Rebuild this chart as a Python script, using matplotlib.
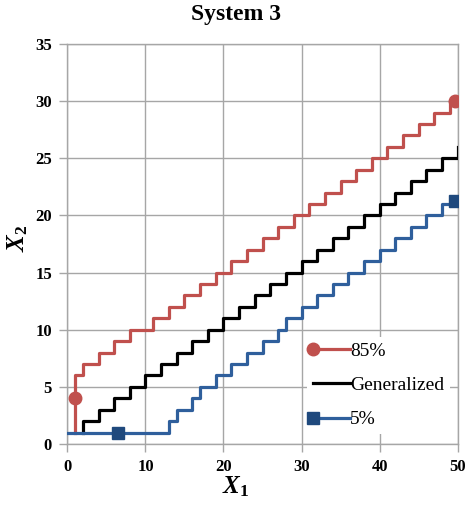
import matplotlib
matplotlib.use("Agg")
import matplotlib.pyplot as plt
from matplotlib.lines import Line2D
from matplotlib.legend_handler import HandlerLine2D

# step lines, each x is where the new y value starts
red_x = [1, 1, 2, 4, 6, 8, 11, 13, 15, 17, 19, 21, 23, 25, 27, 29, 31, 33, 35,
         37, 39, 41, 43, 45, 47, 49, 50]
red_y = [1, 6, 7, 8, 9, 10, 11, 12, 13, 14, 15, 16, 17, 18, 19, 20, 21, 22, 23,
         24, 25, 26, 27, 28, 29, 30, 30]

gen_x = [2, 2, 4, 6, 8, 10, 12, 14, 16, 18, 20, 22, 24, 26, 28, 30, 32, 34, 36,
         38, 40, 42, 44, 46, 48, 50]
gen_y = [1, 2, 3, 4, 5, 6, 7, 8, 9, 10, 11, 12, 13, 14, 15, 16, 17, 18, 19,
         20, 21, 22, 23, 24, 25, 26]

blue_x = [0, 13, 14, 16, 17, 19, 21, 23, 25, 27, 28, 30, 32, 34, 36, 38, 40,
          42, 44, 46, 48, 50]
blue_y = [1, 2, 3, 4, 5, 6, 7, 8, 9, 10, 11, 12, 13, 14, 15, 16, 17,
          18, 19, 20, 21, 21]

# marker points on the 85% and 5% curves
red_mark_x = [1, 49.7]
red_mark_y = [4, 30]
blue_mark_x = [6.5, 49.7]
blue_mark_y = [1, 21.3]

labels = ["85%", "Generalized", "5%"]
x_ticks = [0, 10, 20, 30, 40, 50]
y_ticks = [0, 5, 10, 15, 20, 25, 30, 35]

red = "#C0504D"
blue_line = "#2F5F9C"
blue_mark = "#1F497D"
grid_col = "#A6A6A6"

plt.rcParams["font.family"] = ["Liberation Serif", "DejaVu Serif"]
plt.rcParams["mathtext.fontset"] = "custom"
plt.rcParams["mathtext.rm"] = "Liberation Serif:bold"
plt.rcParams["mathtext.it"] = "Liberation Serif:italic:bold"
plt.rcParams["mathtext.bf"] = "Liberation Serif:bold"


class LeftMarker(HandlerLine2D):
    # put the legend marker at the left end of the line, like Excel
    def create_artists(self, *args, **kwargs):
        artists = super().create_artists(*args, **kwargs)
        for a in artists:
            if isinstance(a, Line2D):
                a.set_markevery([0])
        return artists


fig = plt.figure(figsize=(4.72, 5.07), dpi=100)
ax = fig.add_axes([0.1428, 0.1243, 0.8267, 0.7889])

ax.step(red_x, red_y, where="post", color=red, lw=2.3, zorder=3)
ax.step(gen_x, gen_y, where="post", color="black", lw=2.3, zorder=3)
ax.step(blue_x, blue_y, where="post", color=blue_line, lw=2.3, zorder=3)
ax.plot(red_mark_x, red_mark_y, "o", color=red, ms=9, zorder=4)
ax.plot(blue_mark_x, blue_mark_y, "s", color=blue_mark, ms=8, zorder=4)

ax.set_xlim(0, 50)
ax.set_ylim(0, 35)
ax.set_xticks(x_ticks)
ax.set_yticks(y_ticks)
ax.grid(True, color=grid_col, lw=1)
ax.set_axisbelow(True)
for s in ax.spines.values():
    s.set_color(grid_col)
    s.set_linewidth(1)
ax.tick_params(axis="both", direction="out", length=6, width=1, color=grid_col,
               labelsize=12, pad=5)
for lab in ax.get_xticklabels() + ax.get_yticklabels():
    lab.set_fontweight("bold")

fig.text(0.5, 0.972, "System 3", ha="center", va="center",
         fontsize=17, fontweight="bold")
fig.text(0.5, 0.04, r"$X_1$", ha="center", va="center", fontsize=18)
fig.text(0.038, 0.53, r"$X_2$", ha="center", va="center", fontsize=18,
         rotation=90)

handles = [
    Line2D([], [], color=red, lw=2.3, marker="o", ms=9),
    Line2D([], [], color="black", lw=2.3),
    Line2D([], [], color=blue_line, lw=2.3, marker="s", ms=8,
           markerfacecolor=blue_mark, markeredgecolor=blue_mark),
]
leg = ax.legend(handles, labels, loc="lower right",
                bbox_to_anchor=(1.005, 0.0), fontsize=14, frameon=True,
                fancybox=False, edgecolor="none", facecolor="white",
                framealpha=1, handlelength=1.9, handletextpad=0.0,
                labelspacing=0.85, borderpad=0.3, numpoints=1,
                handler_map={Line2D: LeftMarker()})
leg.set_zorder(5)

fig.savefig("out.png", dpi=100)
